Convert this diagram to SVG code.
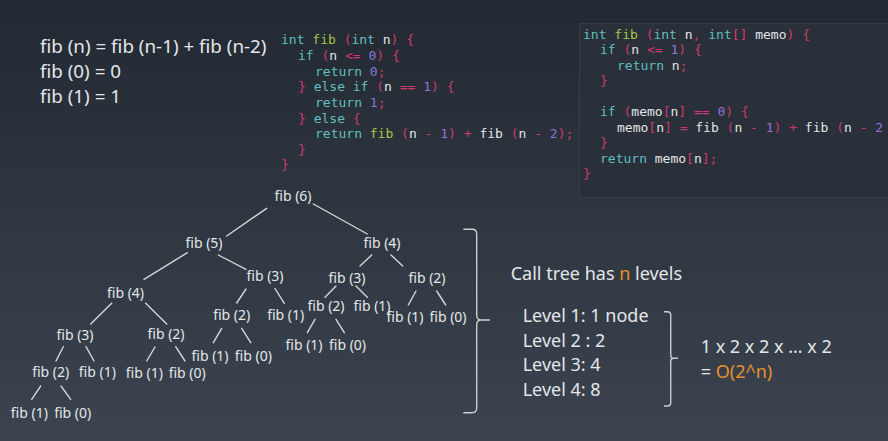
<svg xmlns="http://www.w3.org/2000/svg" width="888" height="441" viewBox="0 0 888 441">
<defs>
<linearGradient id="bg" x1="0" y1="0" x2="0" y2="1">
<stop offset="0" stop-color="#222932"/>
<stop offset="1" stop-color="#3b444f"/>
</linearGradient>
</defs>
<style>
.t{font-family:"Noto Sans","Open Sans","DejaVu Sans",sans-serif;fill:#e4e6e9}
.n{font-size:14px;text-anchor:middle}
.big{font-size:18px}
.fm{font-size:18.8px}
.code{font-family:"DejaVu Sans Mono","Liberation Mono",monospace;font-size:13px;fill:#e2e4e6}
.k{fill:#62bfbd}
.f{fill:#a9c443}
.p{fill:#d3386b}
.d{fill:#8f74d6}
.o{fill:#e8912c}
.e line{stroke:#d4d7da;stroke-width:1.4;stroke-linecap:round}
.br{fill:none;stroke:#c9cdd1;stroke-width:1.4}
</style>
<rect width="888" height="441" fill="url(#bg)"/>

<g id="formula" class="t fm">
<text x="40" y="53">fib (n) = fib (n-1) + fib (n-2)</text>
<text x="40" y="78">fib (0) = 0</text>
<text x="40" y="103">fib (1) = 1</text>
</g>

<g id="code-recursive" class="code">
<text x="281" y="44"><tspan class="k">int</tspan> <tspan class="f">fib</tspan> <tspan class="p">(</tspan><tspan class="k">int</tspan> n<tspan class="p">)</tspan> <tspan class="p">{</tspan></text>
<text x="298" y="60"><tspan class="k">if</tspan> <tspan class="p">(</tspan>n <tspan class="p">&lt;=</tspan> <tspan class="d">0</tspan><tspan class="p">)</tspan> <tspan class="p">{</tspan></text>
<text x="315" y="76"><tspan class="k">return</tspan> <tspan class="d">0</tspan><tspan class="p">;</tspan></text>
<text x="298" y="91"><tspan class="p">}</tspan> <tspan class="k">else if</tspan> <tspan class="p">(</tspan>n <tspan class="p">==</tspan> <tspan class="d">1</tspan><tspan class="p">)</tspan> <tspan class="p">{</tspan></text>
<text x="315" y="107"><tspan class="k">return</tspan> <tspan class="d">1</tspan><tspan class="p">;</tspan></text>
<text x="298" y="123"><tspan class="p">}</tspan> <tspan class="k">else</tspan> <tspan class="p">{</tspan></text>
<text x="315" y="138"><tspan class="k">return</tspan> <tspan class="f">fib</tspan> <tspan class="p">(</tspan>n <tspan class="p">-</tspan> <tspan class="d">1</tspan><tspan class="p">)</tspan> <tspan class="p">+</tspan> fib <tspan class="p">(</tspan>n <tspan class="p">-</tspan> <tspan class="d">2</tspan><tspan class="p">);</tspan></text>
<text x="298" y="154"><tspan class="p">}</tspan></text>
<text x="281" y="169"><tspan class="p">}</tspan></text>
</g>

<g id="code-memo" class="code">
<rect x="579.5" y="23.5" width="320" height="174" fill="#29303a" stroke="#353d47" stroke-width="1"/>
<text x="583" y="39"><tspan class="k">int</tspan> <tspan class="f">fib</tspan> <tspan class="p">(</tspan><tspan class="k">int</tspan> n<tspan class="p">,</tspan> <tspan class="k">int</tspan><tspan class="p">[]</tspan> memo<tspan class="p">)</tspan> <tspan class="p">{</tspan></text>
<text x="600" y="54"><tspan class="k">if</tspan> <tspan class="p">(</tspan>n <tspan class="p">&lt;=</tspan> <tspan class="d">1</tspan><tspan class="p">)</tspan> <tspan class="p">{</tspan></text>
<text x="617" y="70"><tspan class="k">return</tspan> n<tspan class="p">;</tspan></text>
<text x="600" y="85"><tspan class="p">}</tspan></text>
<text x="600" y="116"><tspan class="k">if</tspan> <tspan class="p">(</tspan>memo<tspan class="p">[</tspan>n<tspan class="p">]</tspan> <tspan class="p">==</tspan> <tspan class="d">0</tspan><tspan class="p">)</tspan> <tspan class="p">{</tspan></text>
<text x="617" y="132">memo<tspan class="p">[</tspan>n<tspan class="p">]</tspan> <tspan class="p">=</tspan> fib <tspan class="p">(</tspan>n <tspan class="p">-</tspan> <tspan class="d">1</tspan><tspan class="p">)</tspan> <tspan class="p">+</tspan> fib <tspan class="p">(</tspan>n <tspan class="p">-</tspan> <tspan class="d">2</tspan></text>
<text x="600" y="147"><tspan class="p">}</tspan></text>
<text x="600" y="163"><tspan class="k">return</tspan> memo<tspan class="p">[</tspan>n<tspan class="p">];</tspan></text>
<text x="583" y="178"><tspan class="p">}</tspan></text>
</g>

<g id="connectors" class="e">
<line x1="266.7" y1="208.3" x2="226.7" y2="236"/>
<line x1="313.3" y1="204" x2="367.3" y2="234"/>
<line x1="187.3" y1="252.7" x2="144" y2="279.3"/>
<line x1="218.3" y1="255" x2="246" y2="269.3"/>
<line x1="246" y1="289" x2="236.7" y2="303"/>
<line x1="275" y1="288.5" x2="284.3" y2="303.3"/>
<line x1="221.7" y1="328.3" x2="213.3" y2="342.7"/>
<line x1="241.7" y1="328.3" x2="250.7" y2="342.7"/>
<line x1="111.7" y1="303.3" x2="90.7" y2="324"/>
<line x1="145.7" y1="303.3" x2="166.7" y2="324"/>
<line x1="63.3" y1="346.7" x2="56" y2="361"/>
<line x1="86" y1="346.7" x2="94" y2="361"/>
<line x1="155" y1="347" x2="146.7" y2="361"/>
<line x1="175.7" y1="346.7" x2="185" y2="361"/>
<line x1="40.7" y1="386" x2="31.7" y2="399.3"/>
<line x1="61" y1="386" x2="70.7" y2="399.3"/>
<line x1="371.7" y1="255" x2="360" y2="266"/>
<line x1="391" y1="255" x2="402.7" y2="266"/>
<line x1="336" y1="286" x2="325" y2="297.3"/>
<line x1="356" y1="286" x2="367.3" y2="297.3"/>
<line x1="416" y1="291" x2="408.3" y2="305"/>
<line x1="436.7" y1="291" x2="445.7" y2="305"/>
<line x1="315" y1="319.3" x2="307.3" y2="332.7"/>
<line x1="336" y1="319.3" x2="344.3" y2="332.7"/>
</g>

<g class="t n">
<g id="n6"><text x="293" y="201">fib (6)</text></g>
<g id="n5"><text x="204" y="248">fib (5)</text></g>
<g id="n4r"><text x="382" y="248">fib (4)</text></g>
<g id="n4l"><text x="125.5" y="297.5">fib (4)</text></g>
<g id="n3m"><text x="265" y="281">fib (3)</text></g>
<g id="n3r"><text x="347" y="283">fib (3)</text></g>
<g id="n2rr"><text x="427" y="283">fib (2)</text></g>
<g id="n2r"><text x="326" y="311">fib (2)</text></g>
<g id="n1r"><text x="372" y="311">fib (1)</text></g>
<g id="n1rr"><text x="405" y="322">fib (1)</text></g>
<g id="n0rr"><text x="448" y="322">fib (0)</text></g>
<g id="n1r2"><text x="304" y="350">fib (1)</text></g>
<g id="n0r2"><text x="347.5" y="350">fib (0)</text></g>
<g id="n2m"><text x="231.7" y="320">fib (2)</text></g>
<g id="n1m"><text x="285.7" y="320">fib (1)</text></g>
<g id="n1m2"><text x="210" y="361">fib (1)</text></g>
<g id="n0m2"><text x="253.3" y="361">fib (0)</text></g>
<g id="n3l"><text x="75" y="340">fib (3)</text></g>
<g id="n2l"><text x="166" y="338.5">fib (2)</text></g>
<g id="n2ll"><text x="50.7" y="377">fib (2)</text></g>
<g id="n1l"><text x="97.3" y="377">fib (1)</text></g>
<g id="n1l2"><text x="144.3" y="378">fib (1)</text></g>
<g id="n0l2"><text x="187.2" y="378">fib (0)</text></g>
<g id="n1ll"><text x="29.3" y="418">fib (1)</text></g>
<g id="n0ll"><text x="72.7" y="418">fib (0)</text></g>
</g>

<path class="br" d="M463.3,229.3 L472,229.3 Q476.7,229.3 476.7,234 L476.7,315 Q476.7,320 481,320 L490,320 M481,320 Q476.7,320 476.7,325 L476.7,407.5 Q476.7,412.7 472,412.7 L463.3,412.7"/>
<path class="br" d="M664,311.7 L667.5,311.7 Q670.7,311.7 670.7,315 L670.7,355 Q670.7,358.3 673.5,358.3 L678,358.3 M673.5,358.3 Q670.7,358.3 670.7,361.5 L670.7,402.5 Q670.7,406 667.5,406 L664,406"/>

<g id="analysis" class="t big">
<text x="510.7" y="279.5">Call tree has <tspan class="o">n</tspan> levels</text>
<text x="522.7" y="322">Level 1: 1 node</text>
<text x="522.7" y="346.5">Level 2 : 2</text>
<text x="522.7" y="371">Level 3: 4</text>
<text x="522.7" y="396">Level 4: 8</text>
<text x="700.7" y="353">1 x 2 x 2 x ... x 2</text>
<text x="700.7" y="378">= <tspan class="o">O(2^n)</tspan></text>
</g>
</svg>
